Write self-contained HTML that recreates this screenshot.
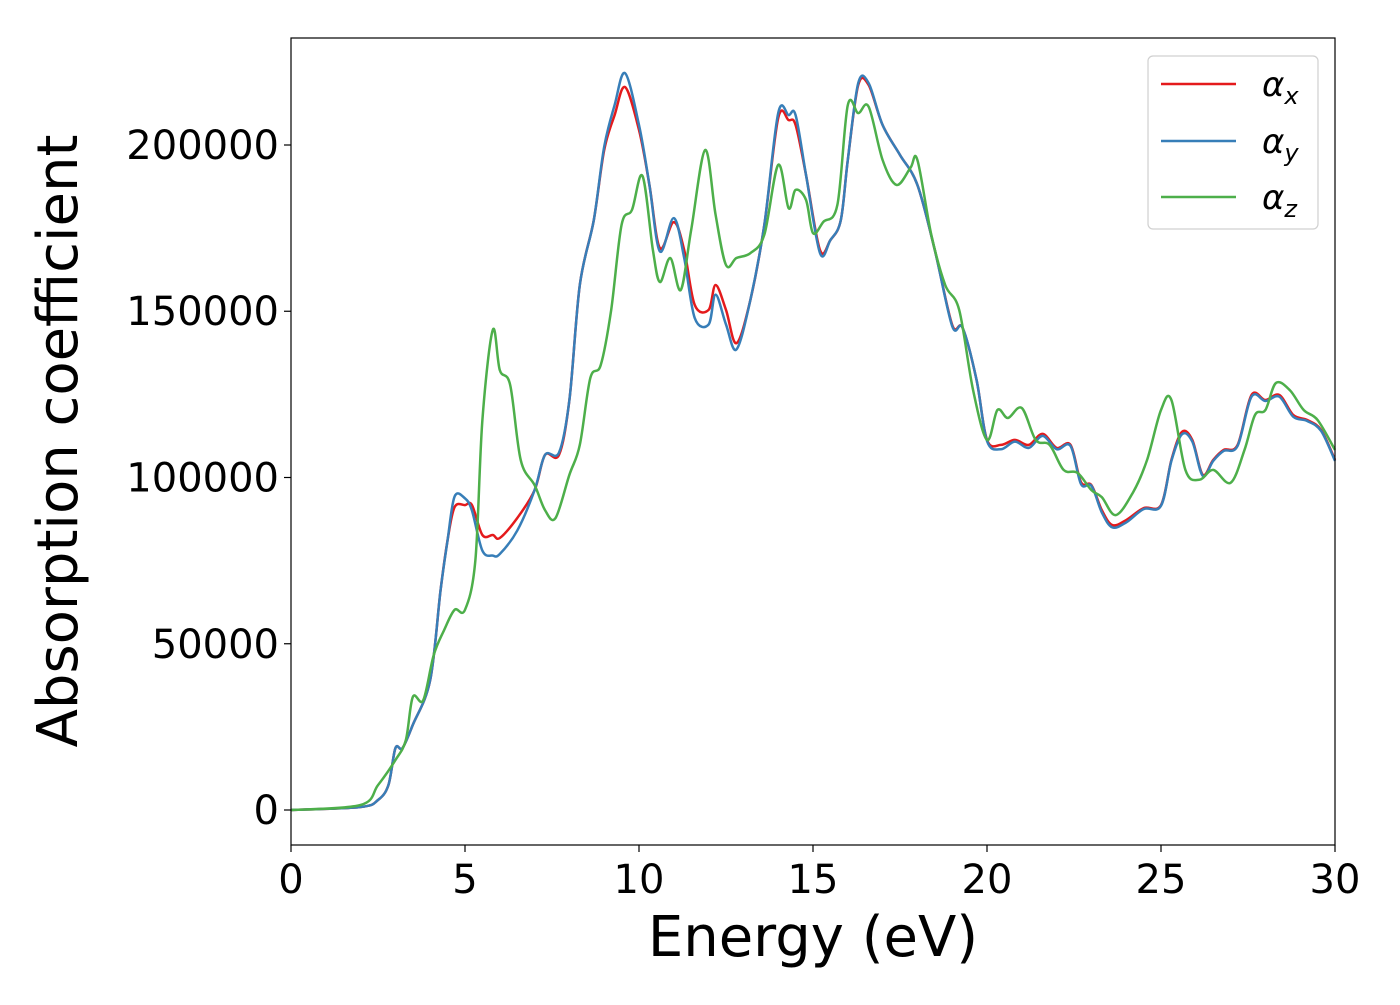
<!DOCTYPE html>
<html><head><meta charset="utf-8"><style>
body{margin:0;background:#fff}
svg text{font-family:"DejaVu Sans","Liberation Sans",sans-serif;fill:#000}
</style></head><body>
<svg id="chart" width="1400" height="1000" xmlns="http://www.w3.org/2000/svg">
<rect x="0" y="0" width="1400" height="1000" fill="#fff"/>
<g id="series"></g>
<g id="axes"></g>
<rect x="291" y="38" width="1044" height="807" fill="none" stroke="#000" stroke-width="1.2"/>
<text x="813" y="956" font-size="56" text-anchor="middle">Energy (eV)</text>
<text transform="translate(77,441) rotate(-90)" font-size="56" text-anchor="middle">Absorption coefficient</text>
<g>
<rect x="1148" y="56" width="170" height="173" rx="5" fill="#fff" stroke="#ccc" stroke-width="1.2" opacity="0.9"/>
<line x1="1161" y1="84" x2="1236" y2="84" stroke="#e41a1c" stroke-width="2.5"/>
<text x="1262" y="96" font-size="34" font-style="italic">α<tspan font-size="24" dy="8">x</tspan></text>
<line x1="1161" y1="141" x2="1236" y2="141" stroke="#377eb8" stroke-width="2.5"/>
<text x="1262" y="153" font-size="34" font-style="italic">α<tspan font-size="24" dy="8">y</tspan></text>
<line x1="1161" y1="197" x2="1236" y2="197" stroke="#4daf4a" stroke-width="2.5"/>
<text x="1262" y="209" font-size="34" font-style="italic">α<tspan font-size="24" dy="8">z</tspan></text>
</g>
</svg>
<script>
const energyXY=[0,2,2.5,2.8,3.0,3.2,3.5,4.0,4.3,4.5,4.7,5.0,5.2,5.5,5.8,6.0,6.5,7.0,7.3,7.7,8.0,8.3,8.7,9.0,9.3,9.6,10.0,10.3,10.6,11.0,11.3,11.6,12.0,12.2,12.5,12.8,13.2,13.6,14.0,14.3,14.5,14.8,15.2,15.5,15.8,16.0,16.3,16.6,17.0,17.5,18.0,18.5,19.0,19.3,19.7,20.0,20.4,20.8,21.2,21.6,22.0,22.4,22.7,23.0,23.3,23.6,24.0,24.5,25.0,25.3,25.6,25.9,26.2,26.5,26.8,27.2,27.6,28.0,28.4,28.8,29.2,29.6,30];
const alphaX=[0,0.9,3,7.5,18.6,18.6,25.6,39.1,66.2,81.2,91.1,91.7,91.7,82.7,82.7,81.8,87.8,96.2,106.8,106.8,123.3,157.9,177.4,198.5,209,217.4,204.5,188,169,176.8,168.4,151.9,150.4,157.9,150.4,140.4,153.4,175.9,208.1,207.5,206,191,168.4,171.4,177.4,195.5,218,218,206,197,188,168.4,145.9,145,129.3,111.3,109.8,111.3,109.8,113.1,108.9,109.8,98.6,97.7,90.2,85.7,87.2,90.8,91.7,105.3,113.7,111.3,100.8,105.3,108.3,109.8,124.8,123.3,124.8,118.8,117.3,114.3,105.3];
const alphaY=[0,0.9,3,7.5,18.6,18.6,25.6,39.1,66.2,81.2,94.3,93.7,90,78,76.5,77,84,96.2,106.8,107.5,123.3,157.9,177.4,199.5,212,221.6,206,188,168,178,166,148,146,155,146,138.5,153.4,175.9,209.6,209,209,191,167.5,171.4,177.4,195.5,218.6,218.6,206,197,188,168.4,145.5,145,129.3,111,108.5,110.8,108.9,112.5,108.5,109.5,98,97.5,89.5,85,86.5,90.5,91.5,105,113,110.8,100.5,105,108,109.5,124.3,123,124.3,118.3,117,114,105];
const energyZ=[0,2.0,2.5,3.0,3.3,3.5,3.8,4.1,4.4,4.7,5.0,5.3,5.5,5.8,6.0,6.3,6.6,7.0,7.3,7.6,8.0,8.3,8.6,8.9,9.2,9.5,9.8,10.1,10.4,10.6,10.9,11.2,11.5,11.9,12.2,12.5,12.8,13.2,13.6,14.0,14.3,14.5,14.8,15.0,15.3,15.7,16.0,16.3,16.6,17.0,17.4,17.8,18.0,18.4,18.8,19.2,19.6,20.0,20.3,20.6,21.0,21.4,21.8,22.2,22.6,23.0,23.3,23.7,24.2,24.6,25.0,25.3,25.7,26.1,26.5,27.0,27.4,27.7,28.0,28.3,28.7,29.1,29.5,30];
const alphaZ=[0,1.5,7.5,15,21,34,33,46.6,54.1,60.2,60.2,75.2,117.3,144.4,132.3,127.8,105.3,97.7,90.2,87.8,100.8,109.8,129.9,133.8,150.4,176,180.5,190.7,168.4,158.8,166,156.4,174.5,198.5,179,163.9,166,167.5,173,194,181,186.5,183.5,173.5,176.9,182,212,209.6,211.5,195.5,188,193.1,195.5,173,157.9,150.4,126.3,111.3,120.3,117.9,120.9,111.3,109.8,102.3,101.4,96.2,94.1,88.7,95.6,105.3,120.3,123.3,102.3,99.3,102.3,98.4,108.3,118.8,120.3,128.4,126.3,120.3,117.3,108.3];
const valueScale=1000;
const xTicks=[0,5,10,15,20,25,30];
const yTicks=[0,50000,100000,150000,200000];

const X0=291,X1=1335,Y0=845,Y1=38,xMin=0,xMax=30,yMin=-10526,yMax=232180;
const sx=v=>X0+(v-xMin)/(xMax-xMin)*(X1-X0);
const sy=v=>Y0-(v-yMin)/(yMax-yMin)*(Y0-Y1);
const NS='http://www.w3.org/2000/svg';
function pathFor(xs,ys){
  const p=xs.map((x,i)=>[sx(x),sy(ys[i]*valueScale)]);
  let d='M'+p[0][0].toFixed(1)+','+p[0][1].toFixed(1);
  for(let i=0;i<p.length-1;i++){
    const a=p[Math.max(i-1,0)],b=p[i],c=p[i+1],e=p[Math.min(i+2,p.length-1)];
    const c1=[b[0]+(c[0]-a[0])/6,b[1]+(c[1]-a[1])/6],c2=[c[0]-(e[0]-b[0])/6,c[1]-(e[1]-b[1])/6];
    d+=' C'+c1.map(v=>v.toFixed(1))+' '+c2.map(v=>v.toFixed(1))+' '+c[0].toFixed(1)+','+c[1].toFixed(1);
  }
  return d;
}
const sg=document.getElementById('series');
[[energyXY,alphaX,'#e41a1c','alpha-x-line'],[energyXY,alphaY,'#377eb8','alpha-y-line'],[energyZ,alphaZ,'#4daf4a','alpha-z-line']].forEach(s=>{
  const el=document.createElementNS(NS,'path');
  el.setAttribute('d',pathFor(s[0],s[1]));
  el.setAttribute('fill','none');el.setAttribute('stroke',s[2]);el.setAttribute('stroke-width','2.5');
  
  
  sg.appendChild(el);
});
const ax=document.getElementById('axes');
xTicks.forEach(t=>{
  const l=document.createElementNS(NS,'line');
  l.setAttribute('x1',sx(t));l.setAttribute('x2',sx(t));l.setAttribute('y1',845);l.setAttribute('y2',852);l.setAttribute('stroke','#000');l.setAttribute('stroke-width','1.2');
  
  
  ax.appendChild(l);
  const tx=document.createElementNS(NS,'text');
  tx.setAttribute('x',sx(t));tx.setAttribute('y',893);tx.setAttribute('font-size','40');tx.setAttribute('text-anchor','middle');tx.textContent=t;
  
  
  ax.appendChild(tx);
});
yTicks.forEach(t=>{
  const l=document.createElementNS(NS,'line');
  l.setAttribute('x1',284);l.setAttribute('x2',291);l.setAttribute('y1',sy(t));l.setAttribute('y2',sy(t));l.setAttribute('stroke','#000');l.setAttribute('stroke-width','1.2');
  
  
  ax.appendChild(l);
  const tx=document.createElementNS(NS,'text');
  tx.setAttribute('x',279);tx.setAttribute('y',sy(t)+14);tx.setAttribute('font-size','40');tx.setAttribute('text-anchor','end');tx.textContent=t;
  
  
  ax.appendChild(tx);
});
</script>
</body></html>
